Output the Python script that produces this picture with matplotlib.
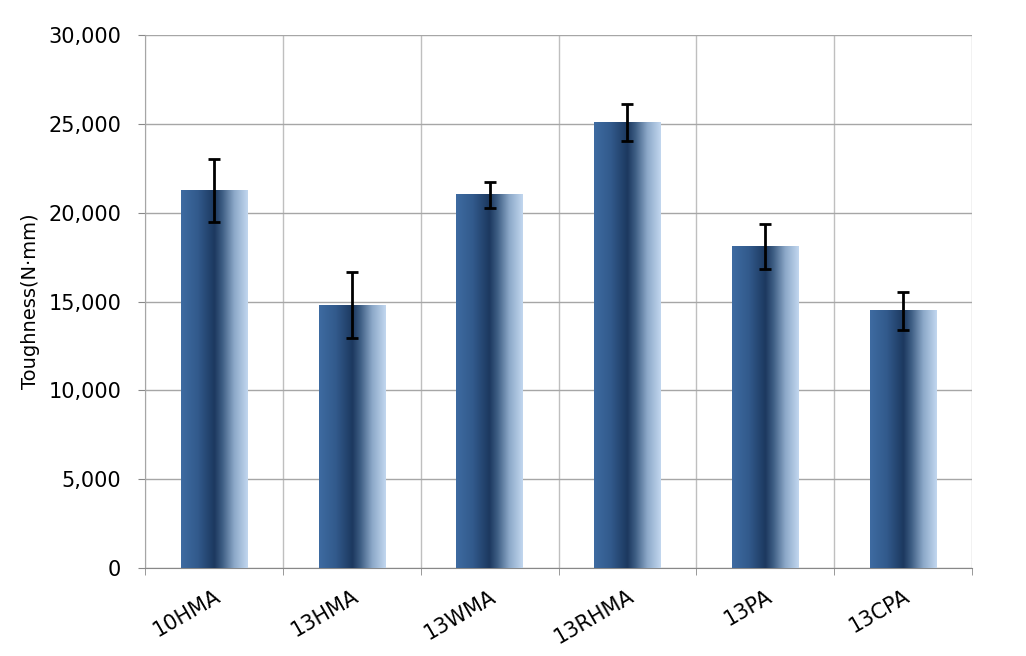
import matplotlib.pyplot as plt
import numpy as np
from matplotlib.colors import LinearSegmentedColormap
from matplotlib.ticker import FuncFormatter, FixedLocator

# Data
categories = ['10HMA', '13HMA', '13WMA', '13RHMA', '13PA', '13CPA']
toughness = [21250, 14800, 21000, 25050, 18120, 14470]
errors = [1780, 1880, 720, 1040, 1270, 1070]

plt.rcParams['font.family'] = ['DejaVu Sans']

fig = plt.figure(figsize=(10.26, 6.56), dpi=100)
ax = fig.add_axes([0.1413, 0.1341, 0.8061, 0.8125])

x = np.arange(len(categories))
bar_width = 0.48

# horizontal blue gradient used in each bar
grad_cmap = LinearSegmentedColormap.from_list('bar_grad', [
    (0.0, '#3E6BA1'),
    (0.25, '#325A8C'),
    (0.5, '#1C385F'),
    (0.62, '#3E5E84'),
    (0.8, '#8DA9C9'),
    (1.0, '#C2D7EF'),
])
gradient = np.linspace(0, 1, 256).reshape(1, -1)

bars = ax.bar(x, toughness, width=bar_width, color='none', edgecolor='none', zorder=3)
for b in bars:
    x0, y0 = b.get_x(), b.get_y()
    ax.imshow(gradient, cmap=grad_cmap, aspect='auto', interpolation='bicubic',
              extent=[x0, x0 + b.get_width(), y0, y0 + b.get_height()], zorder=3)

ax.errorbar(x, toughness, yerr=errors, fmt='none', ecolor='black', elinewidth=2,
            capsize=4, capthick=2, zorder=4)

ax.set_xlim(-0.5, len(categories) - 0.5)
ax.set_ylim(0, 30000)
ax.set_yticks(np.arange(0, 30001, 5000))
ax.yaxis.set_major_formatter(FuncFormatter(lambda v, p: f'{int(v):,}'))

ax.set_xticks(x)
ax.set_xticklabels(categories, rotation=30, ha='right', rotation_mode='anchor', fontsize=15)
ax.xaxis.set_minor_locator(FixedLocator(np.arange(-0.5, len(categories), 1)))
ax.tick_params(axis='x', which='major', length=0, pad=13)
ax.tick_params(axis='x', which='minor', length=5, color='#888888')
ax.tick_params(axis='y', length=5, color='#888888', labelsize=15, pad=12)

ax.grid(axis='y', color='#A6A6A6', linewidth=1, zorder=0)
ax.grid(axis='x', which='minor', color='#BFBFBF', linewidth=1, zorder=0)
ax.set_axisbelow(True)

for side in ['top', 'right']:
    ax.spines[side].set_visible(False)
ax.spines['left'].set_color('#A6A6A6')
ax.spines['bottom'].set_color('#888888')

ax.set_ylabel('Toughness(N·mm)', fontsize=14, labelpad=6)

fig.savefig('out.png', dpi=100)
